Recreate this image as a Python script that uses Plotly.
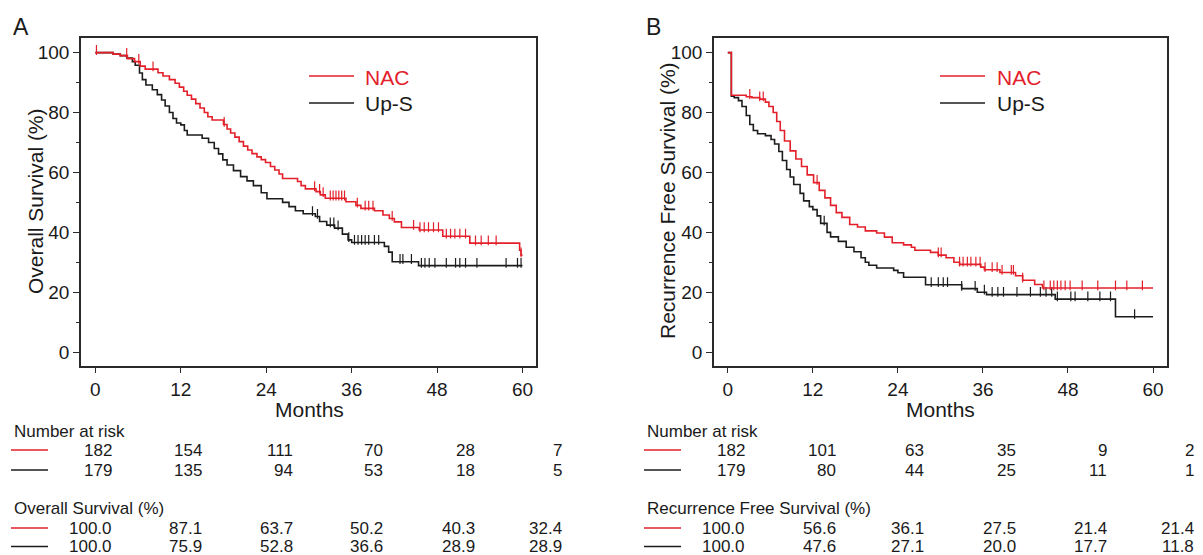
import numpy as np
import plotly.graph_objects as go

W, H = 1203, 555

# ---------------- Panel A : Overall survival (step data)
os_nac_t = [0, 2.5, 3.5, 4.5, 5.5, 6.3, 7.0, 8.8, 9.5, 10.4, 11.2, 11.8, 12.4, 12.9, 13.5, 14.1, 14.7,
            15.3, 15.8, 16.4, 18.0, 18.5, 19.0, 19.6, 20.2, 20.8, 21.4, 22.0, 22.7, 23.3, 23.9, 24.6,
            25.2, 25.8, 26.3, 28.4, 28.9, 29.5, 31.0, 31.6, 32.3, 35.2, 36.6, 37.3, 39.2, 40.4, 41.3,
            42.0, 43.0, 45.5, 48.8, 52.6, 59.6, 59.8, 60.0]
os_nac_s = [100, 99.5, 99.0, 98.0, 97.0, 95.5, 94.5, 93.3, 92.2, 91.0, 89.8, 88.5, 87.1, 85.8, 84.5, 83.0, 81.5,
            80.0, 78.6, 77.5, 76.0, 74.5, 73.2, 71.8, 70.3, 68.8, 67.5, 66.3, 65.2, 64.3, 63.3, 62.0,
            60.8, 59.5, 58.0, 57.0, 55.6, 54.5, 53.6, 52.5, 51.4, 50.2, 49.0, 48.0, 47.2, 45.8, 44.6,
            43.5, 41.6, 40.8, 38.7, 36.4, 34.0, 32.4, 32.4]
os_ups_t = [0, 2.5, 3.5, 4.4, 5.2, 5.6, 6.2, 6.6, 7.1, 8.0, 8.7, 9.3, 9.8, 10.4, 10.9, 11.4, 12.0, 12.5,
            12.9, 15.0, 15.9, 16.7, 17.3, 17.9, 18.5, 19.4, 20.4, 21.3, 22.2, 23.3, 24.1, 26.3, 27.2,
            28.1, 29.2, 30.9, 31.5, 32.5, 33.6, 34.7, 35.5, 36.0, 40.6, 41.2, 41.7, 45.4, 60.0]
os_ups_s = [100, 99.5, 99.0, 98.2, 97.0, 95.8, 93.2, 91.0, 89.2, 87.6, 86.0, 84.2, 82.2, 80.0, 78.0, 76.5, 75.9, 74.0,
            72.5, 71.4, 70.0, 68.0, 66.2, 64.2, 62.5, 60.6, 58.6, 57.2, 55.6, 53.2, 51.2, 50.0, 48.6,
            47.2, 46.2, 45.3, 43.6, 42.4, 41.4, 39.4, 37.5, 36.6, 35.3, 33.4, 30.2, 28.9, 28.9]
os_nac_cens = [0.15, 4.4, 6.1, 8.1, 18.1, 30.8, 31.5, 32.0, 33.0, 33.4, 33.8, 34.2, 34.6, 35.0, 36.8,
               37.9, 38.4, 39.0, 41.7, 44.7, 45.6, 46.2, 46.8, 47.5, 48.2, 49.3, 49.9, 50.5, 51.2,
               52.0, 53.4, 54.2, 55.2, 56.3, 59.8]
os_ups_cens = [30.5, 31.2, 33.0, 33.5, 34.1, 35.6, 36.4, 36.9, 37.4, 37.9, 38.4, 39.2, 39.8, 42.8,
               43.2, 44.4, 45.8, 46.3, 46.9, 47.7, 49.3, 50.6, 51.2, 52.0, 53.6, 57.7, 59.3, 59.8]

# ---------------- Panel B : Recurrence free survival
rfs_nac_t = [0, 0.5, 2.6, 3.4, 4.5, 5.3, 5.8, 6.4, 6.9, 7.4, 8.0, 8.8, 9.6, 10.4, 11.2, 12.1, 12.9,
             13.7, 14.5, 15.3, 16.1, 17.2, 18.3, 19.4, 21.0, 22.1, 23.2, 24.8, 25.9, 26.4, 28.6, 29.7,
             30.8, 31.9, 32.7, 35.7, 36.2, 38.4, 40.6, 41.6, 43.3, 44.4, 60.0]
rfs_nac_s = [100, 85.8, 85.3, 85.0, 84.5, 83.5, 82.0, 80.0, 77.0, 74.0, 70.5, 67.2, 64.5, 62.0, 59.2, 56.6, 54.0,
             51.5, 49.0, 46.6, 45.0, 42.6, 41.8, 40.5, 39.8, 38.4, 36.5, 35.8, 35.0, 34.0, 33.3, 32.4,
             31.5, 30.0, 29.3, 28.4, 27.5, 26.6, 25.5, 24.0, 22.6, 21.4, 21.4]
rfs_ups_t = [0, 0.5, 0.9, 1.5, 2.0, 2.6, 3.1, 3.6, 4.2, 5.3, 6.1, 6.6, 7.2, 7.7, 8.3, 8.8, 9.3, 10.2,
             10.7, 11.5, 12.0, 12.6, 13.1, 14.0, 14.5, 15.6, 16.7, 17.8, 18.8, 19.4, 19.9, 21.0, 23.4,
             24.0, 24.8, 27.9, 33.0, 35.2, 36.5, 46.2, 54.7, 60.0]
rfs_ups_s = [100, 85.5, 85.0, 84.0, 82.0, 79.0, 76.0, 74.0, 72.9, 72.3, 71.0, 69.5, 67.0, 64.0, 61.0, 58.5, 56.0, 53.0,
             50.5, 48.6, 47.6, 45.5, 43.0, 40.0, 38.5, 37.0, 35.0, 33.5, 31.5, 30.0, 29.0, 28.1, 27.3,
             26.5, 25.0, 22.5, 21.2, 20.0, 19.2, 17.7, 11.8, 11.8]
rfs_nac_cens = [3.1, 4.5, 5.0, 12.6, 29.7, 30.1, 32.7, 33.2, 33.8, 34.3, 35.0, 35.6, 36.3, 37.3, 38.0,
                38.7, 40.0, 40.3, 41.6, 44.6, 45.5, 46.0, 46.5, 47.0, 47.6, 48.3, 50.0, 52.2, 54.7,
                56.3, 58.5]
rfs_ups_cens = [13.6, 28.7, 29.7, 30.4, 31.0, 33.0, 34.9, 36.2, 37.3, 38.1, 38.9, 40.8, 42.7, 44.1,
                44.9, 45.7, 46.5, 48.4, 49.0, 50.8, 52.5, 54.0, 57.4]

# ---------------- Tables
risk_months = [0, 12, 24, 36, 48, 60]
os_risk_nac = [182, 154, 111, 70, 28, 7]
os_risk_ups = [179, 135, 94, 53, 18, 5]
os_pct_nac = ["100.0", "87.1", "63.7", "50.2", "40.3", "32.4"]
os_pct_ups = ["100.0", "75.9", "52.8", "36.6", "28.9", "28.9"]
rfs_risk_nac = [182, 101, 63, 35, 9, 2]
rfs_risk_ups = [179, 80, 44, 25, 11, 1]
rfs_pct_nac = ["100.0", "56.6", "36.1", "27.5", "21.4", "21.4"]
rfs_pct_ups = ["100.0", "47.6", "27.1", "20.0", "17.7", "11.8"]

RED = "#e3202a"
BLK = "#1c1c1c"
FRAME = "#2a2a2a"
FONT = "Arial, 'Liberation Sans', sans-serif"


def px(x):
    return x / W


def py(y):
    return 1 - y / H


def step_at(ts, ss, c):
    i = np.searchsorted(np.asarray(ts), c, side="right") - 1
    return float(np.asarray(ss)[max(i, 0)])


fig = go.Figure()

panels = [
    ("x", "y", os_nac_t, os_nac_s, os_ups_t, os_ups_s, os_nac_cens, os_ups_cens),
    ("x2", "y2", rfs_nac_t, rfs_nac_s, rfs_ups_t, rfs_ups_s, rfs_nac_cens, rfs_ups_cens),
]
for xa, ya, nt, ns, ut, us, nc, uc in panels:
    for t, s, c, col, name in [(ut, us, uc, BLK, "Up-S"), (nt, ns, nc, RED, "NAC")]:
        fig.add_trace(go.Scatter(x=t, y=s, mode="lines", line=dict(color=col, width=1.6, shape="hv"),
                                 name=name, showlegend=False, xaxis=xa, yaxis=ya, hoverinfo="skip"))
        cy = [step_at(t, s, v) + 0.9 for v in c]
        fig.add_trace(go.Scatter(x=c, y=cy, mode="markers",
                                 marker=dict(symbol="line-ns", size=7, line=dict(color=col, width=1.2)),
                                 showlegend=False, xaxis=xa, yaxis=ya, hoverinfo="skip"))

axis_common = dict(showline=True, linecolor=FRAME, linewidth=1.5, mirror=True, ticks="outside",
                   ticklen=6, tickwidth=1.3, tickcolor=FRAME, showgrid=False, zeroline=False,
                   tickfont=dict(family=FONT, size=19, color="#1a1a1a"))
xa_common = dict(axis_common, tickvals=risk_months, ticktext=[str(m) for m in risk_months])
ya_common = dict(axis_common, tickvals=[0, 20, 40, 60, 80, 100], range=[-4.5, 104.9],
                 minor=dict(tickvals=[10, 30, 50, 70, 90], ticklen=3, tickwidth=1.2, tickcolor=FRAME))

ydom = [py(365.6), py(38)]
fig.update_layout(
    width=W, height=H, autosize=False, margin=dict(l=0, r=0, t=0, b=0),
    paper_bgcolor="white", plot_bgcolor="white",
    xaxis=dict(xa_common, domain=[px(81), px(536)], range=[-2.02, 61.9], anchor="y"),
    yaxis=dict(ya_common, domain=ydom, anchor="x"),
    xaxis2=dict(xa_common, domain=[px(714), px(1166.5)], range=[-1.95, 61.9], anchor="y2"),
    yaxis2=dict(ya_common, domain=ydom, anchor="x2"),
)

ann = []
shapes = []


def text(x, y, s, size, color="#1a1a1a", xanchor="center", angle=0):
    ann.append(dict(x=px(x), y=py(y), xref="paper", yref="paper", text=s, showarrow=False,
                    xanchor=xanchor, yanchor="middle", textangle=angle,
                    font=dict(family=FONT, size=size, color=color)))


def hline(x0, x1, y, color):
    shapes.append(dict(type="line", xref="paper", yref="paper", x0=px(x0), x1=px(x1),
                       y0=py(y), y1=py(y), line=dict(color=color, width=1.6)))


# panel letters, axis titles
text(21, 27, "A", 23, xanchor="center")
text(653, 27, "B", 23, xanchor="center")
text(309, 409, "Months", 21)
text(940, 409, "Months", 21)
text(35, 201, "Overall Survival (%)", 21, angle=-90)
text(667, 201, "Recurrence Free Survival (%)", 21, angle=-90)

# legends inside plots
for lx0, lx1, tx in [(309, 354, 363), (940, 985, 995)]:
    hline(lx0, lx1, 76, RED)
    hline(lx0, lx1, 103, BLK)
    text(tx, 77, "NAC", 21, color=RED, xanchor="left")
    text(tx, 104, "Up-S", 21, xanchor="left")

# tables
ROWS = [450, 470, 528, 546.5]
tables = [
    (11, 48, 11.5, [113.5, 204, 295, 385, 477, 564], "Overall Survival (%)",
     os_risk_nac, os_risk_ups, os_pct_nac, os_pct_ups),
    (644, 681, 645, [746.5, 838, 925.5, 1018, 1109, 1196], "Recurrence Free Survival (%)",
     rfs_risk_nac, rfs_risk_ups, rfs_pct_nac, rfs_pct_ups),
]
for lx0, lx1, hx, cols, ptitle, rn, ru, pn, pu in tables:
    text(hx, 431, "Number at risk", 17, xanchor="left")
    text(hx, 508, ptitle, 17, xanchor="left")
    for yy, col in zip(ROWS, [RED, BLK, RED, BLK]):
        hline(lx0, lx1, yy, col)
    for cx, a, b, c, d in zip(cols, rn, ru, pn, pu):
        for yy, v in zip(ROWS, [str(a), str(b), c, d]):
            text(cx, yy, v, 17, xanchor="right")

fig.update_layout(annotations=ann, shapes=shapes)
fig.write_html("out.html", config={"displayModeBar": False},
               post_script="document.body.style.margin='0px';document.body.style.overflow='hidden';")
